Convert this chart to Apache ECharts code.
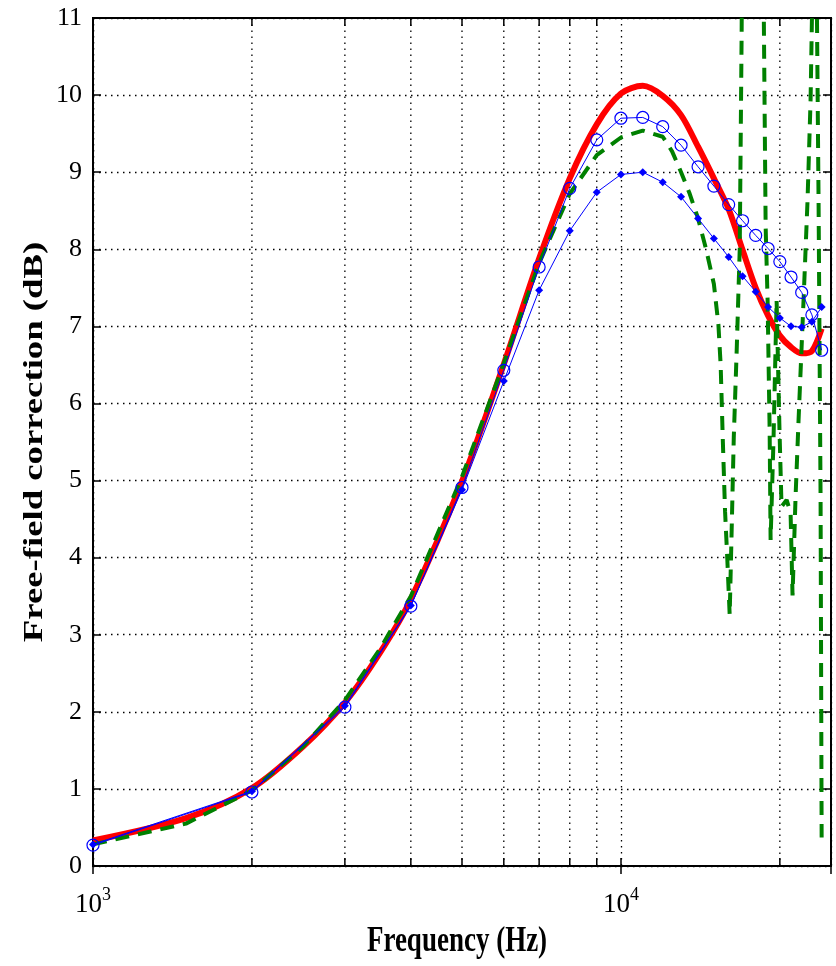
<!DOCTYPE html>
<html><head><meta charset="utf-8">
<script src="https://cdn.jsdelivr.net/npm/echarts@6/dist/echarts.min.js"></script>
<style>html,body{margin:0;padding:0;background:#fff}#c{width:836px;height:966px}</style>
</head><body><div id="c"></div>
<script>
// ---- data ----
const redFreqs = [1000,1500,2000,2500,3000,3500,4000,5000,6000,7000,8000,9000,10000,11000,12000,13000,14000,15000,16000,17000,18000,19000,20000,21000,22000,23000,24000];
const redVals  = [0.33,0.62,1.01,1.55,2.12,2.77,3.46,4.99,6.51,7.88,8.92,9.62,10.02,10.12,9.99,9.74,9.33,8.92,8.52,7.99,7.50,7.14,6.88,6.73,6.65,6.68,6.97];

const blueFreqs = [1000,2000,3000,4000,5000,6000,7000,8000,9000,10000,11000,12000,13000,14000,15000,16000,17000,18000,19000,20000,21000,22000,23000,24000];
const circleVals  = [0.27,0.96,2.06,3.37,4.91,6.43,7.77,8.79,9.42,9.70,9.71,9.59,9.35,9.07,8.82,8.58,8.37,8.18,8.01,7.84,7.64,7.44,7.15,6.69];
const diamondVals = [0.28,0.97,2.08,3.38,4.88,6.29,7.47,8.24,8.74,8.97,9.00,8.87,8.68,8.40,8.14,7.90,7.65,7.45,7.25,7.11,7.00,6.99,7.06,7.25];

const greenFreqs = [1000,1500,2000,2500,3000,3500,4000,5000,6000,7000,8000,9000,10000,11000,12000,12500,13000,13500,14000,14500,15000,15300,15450,15600,15750,15900,16070,16210,16360,16570,16790,16930,17300,18200,18640,18800,18960,19130,19210,19460,19720,19970,20150,20600,20960,21140,21420,21700,22180,22570,22870,23070,23280,23480,23680,23890,24000];
const greenVals  = [0.28,0.55,0.98,1.55,2.15,2.82,3.50,5.05,6.52,7.82,8.72,9.22,9.45,9.54,9.46,9.27,9.00,8.72,8.40,8.00,7.55,7.02,6.50,5.50,4.60,4.00,3.26,4.36,5.56,6.69,8.00,10.8,22,22,11.2,8.29,7.34,5.65,4.23,5.56,7.34,5.65,4.66,4.75,4.58,3.51,4.79,5.78,7.34,8.64,9.94,11.5,20,11.5,8.64,4.75,0.37];

const minorFreqs = [2000,3000,4000,5000,6000,7000,8000,9000,20000];
const yTicks = [0,1,2,3,4,5,6,7,8,9,10,11];

const xTitle = 'Frequency (Hz)';
const yTitle = 'Free-field correction (dB)';

// ---- chart ----
const zip = (xs, ys) => xs.map((x, i) => [x, ys[i]]);
const FONT = 'Liberation Serif';
const dotted = {color: '#000', width: 1.3, type: [1.5, 4.5]};
const tickStyle = {color: '#000', width: 1.5};

const chart = echarts.init(document.getElementById('c'));
chart.setOption({
  animation: false,
  backgroundColor: '#fff',
  grid: {left: 93, right: 5, top: 18, bottom: 100, containLabel: false, outerBoundsMode: 'none',
    show: true, borderColor: '#000', borderWidth: 2, backgroundColor: 'transparent'},
  xAxis: [{
    type: 'log', logBase: 10, min: 1000, max: 25000, position: 'bottom',
    axisLine: {show: true, onZero: false, lineStyle: {color: '#000', width: 2}},
    axisTick: {show: true, inside: true, length: 8, lineStyle: tickStyle},
    axisLabel: {
      margin: 20, showMaxLabel: false,
      formatter: v => {
        const e = Math.log10(v);
        return Math.abs(e - Math.round(e)) < 1e-6 ? '{b|10}{s|' + Math.round(e) + '}' : '';
      },
      rich: {
        b: {fontFamily: FONT, fontSize: 27, color: '#000'},
        s: {fontFamily: FONT, fontSize: 18, color: '#000', padding: [0, 0, 20, 0]}
      }
    },
    splitLine: {show: true, lineStyle: dotted}
  }, {
    type: 'log', logBase: 10, min: 1000, max: 25000, position: 'top',
    axisLine: {show: false},
    axisTick: {show: true, inside: true, length: 8, lineStyle: tickStyle},
    axisLabel: {show: false}, splitLine: {show: false}
  }],
  yAxis: [{
    type: 'value', min: 0, max: 11, interval: 1, position: 'left',
    axisLine: {show: true, onZero: false, lineStyle: {color: '#000', width: 2}},
    axisTick: {show: true, inside: true, length: 8, lineStyle: tickStyle},
    axisLabel: {margin: 11, fontFamily: FONT, fontSize: 26, color: '#000',
      formatter: v => yTicks.includes(v) ? String(v) : ''},
    splitLine: {show: true, lineStyle: dotted}
  }, {
    type: 'value', min: 0, max: 11, interval: 1, position: 'right',
    axisLine: {show: false},
    axisTick: {show: true, inside: true, length: 8, lineStyle: tickStyle},
    axisLabel: {show: false}, splitLine: {show: false}
  }],
  graphic: [
    {type: 'text', x: 457, y: 942, scaleY: 1.3,
      style: {text: xTitle, fontFamily: FONT, fontWeight: 'bold', fontSize: 27, fill: '#000', align: 'center', verticalAlign: 'middle'}},
    {type: 'text', x: 35, y: 442, rotation: Math.PI / 2, scaleX: 1.36,
      style: {text: yTitle, fontFamily: FONT, fontWeight: 'bold', fontSize: 27, fill: '#000', align: 'center', verticalAlign: 'middle'}}
  ],
  series: [
    {
      type: 'custom', xAxisIndex: 0, yAxisIndex: 0, silent: true, z: 1,
      data: minorFreqs.map(f => [f, 0]),
      encode: {x: 0, y: 1},
      renderItem: (params, api) => {
        const f = api.value(0);
        const p0 = api.coord([f, 0]);
        const p1 = api.coord([f, 11]);
        return {type: 'group', children: [
          {type: 'line', shape: {x1: p0[0], y1: p0[1], x2: p1[0], y2: p1[1]}, style: {stroke: '#000', lineWidth: 1.3, lineDash: [1.5, 4.5]}},
          {type: 'line', shape: {x1: p0[0], y1: p0[1], x2: p0[0], y2: p0[1] - 8}, style: {stroke: '#000', lineWidth: 1.5}},
          {type: 'line', shape: {x1: p1[0], y1: p1[1], x2: p1[0], y2: p1[1] + 8}, style: {stroke: '#000', lineWidth: 1.5}}
        ]};
      }
    },
    {
      name: 'red', type: 'line', data: zip(redFreqs, redVals), smooth: 0.3,
      showSymbol: false, symbol: 'none', z: 3,
      lineStyle: {color: '#ff0000', width: 6}
    },
    {
      name: 'green', type: 'line', data: zip(greenFreqs, greenVals),
      showSymbol: false, symbol: 'none', z: 4, clip: true,
      lineStyle: {color: '#008000', width: 4, type: [14, 9]}
    },
    {
      name: 'diamond', type: 'line', data: zip(blueFreqs, diamondVals),
      symbol: 'diamond', symbolSize: 8, z: 5,
      lineStyle: {color: '#0000ff', width: 1},
      itemStyle: {color: '#0000ff'}
    },
    {
      name: 'circle', type: 'line', data: zip(blueFreqs, circleVals),
      symbol: 'circle', symbolSize: 12, z: 6,
      lineStyle: {color: '#0000ff', width: 1},
      itemStyle: {color: 'rgba(0,0,0,0)', borderColor: '#0000ff', borderWidth: 1.2}
    }
  ]
});
</script>
</body></html>
